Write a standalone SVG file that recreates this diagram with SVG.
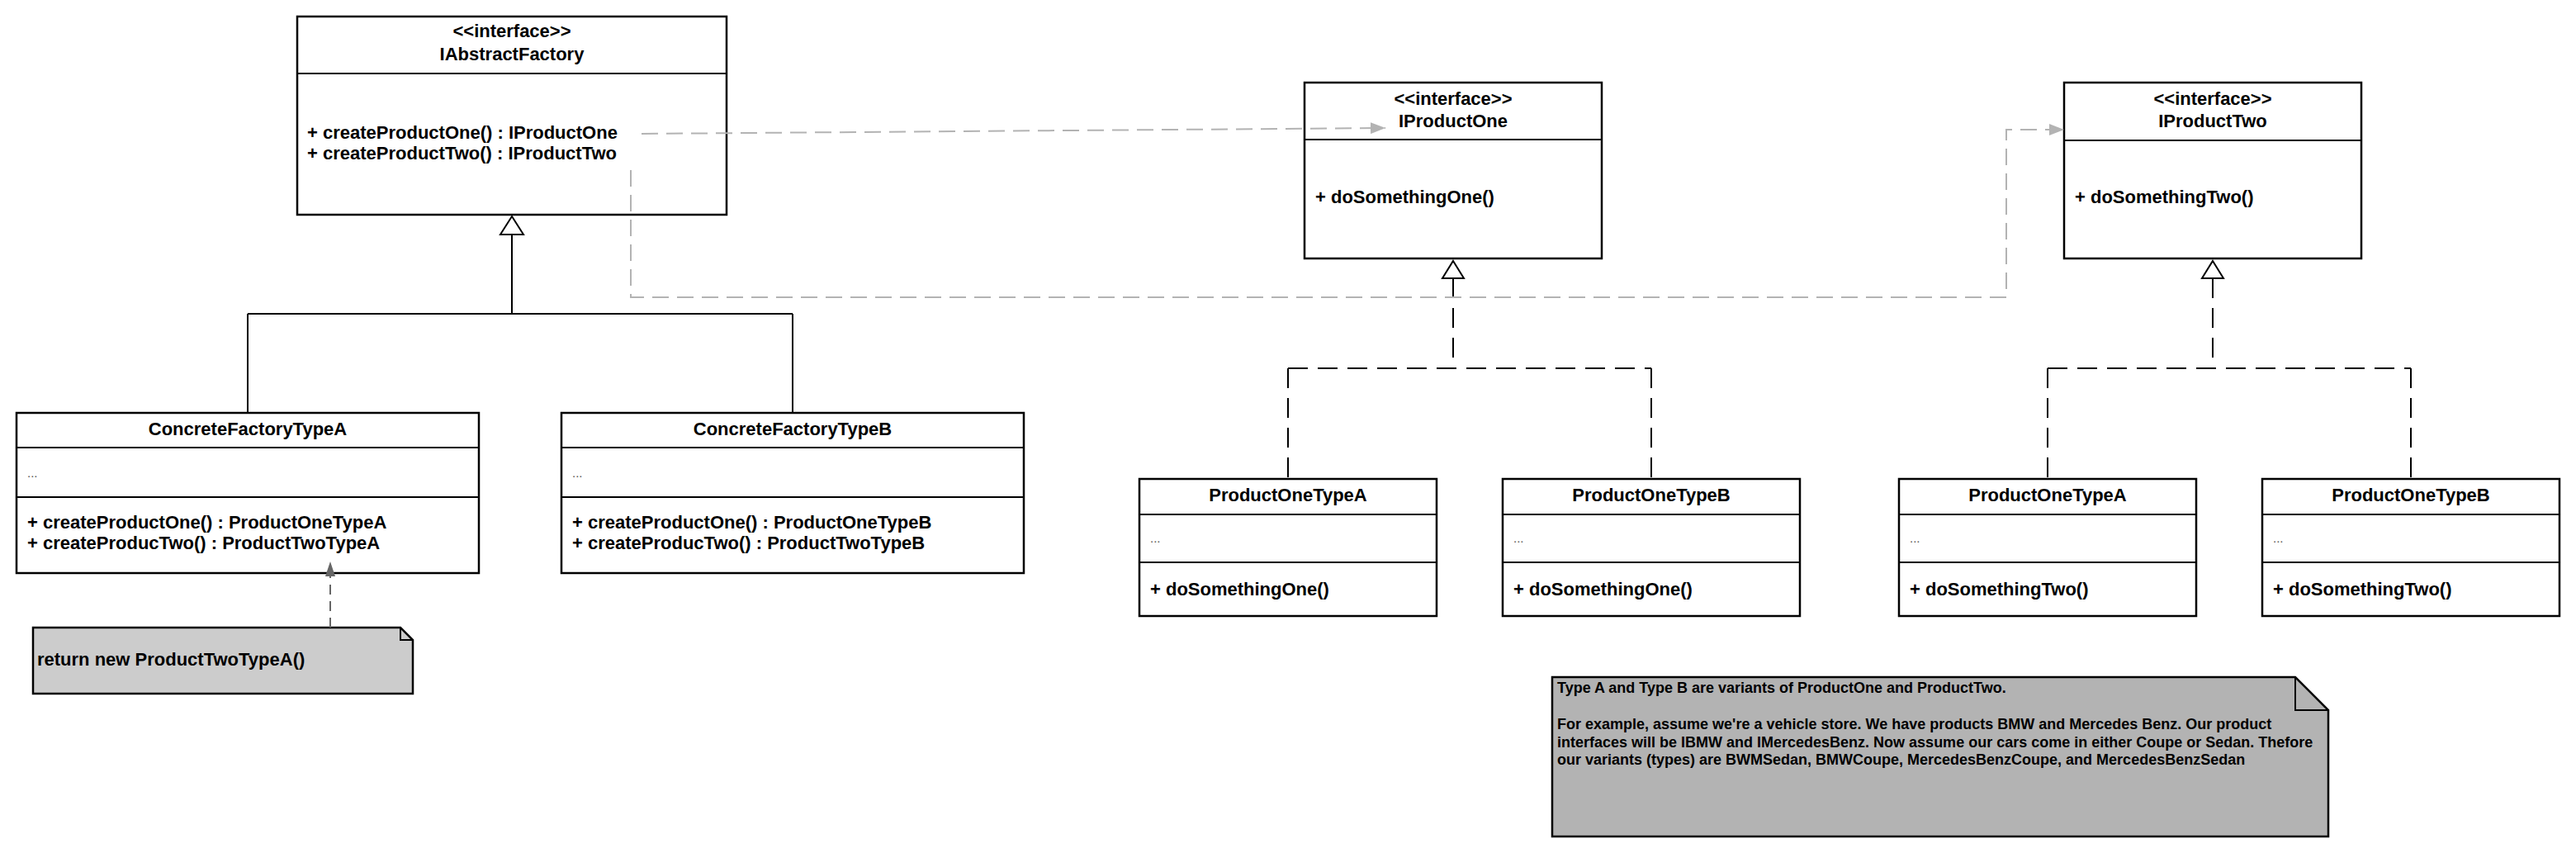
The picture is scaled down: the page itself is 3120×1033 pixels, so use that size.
<svg xmlns="http://www.w3.org/2000/svg" width="3120" height="1033" viewBox="0 0 3120 1033">
<style>
.box{fill:#fff;stroke:#000;stroke-width:2.5}
.sep{stroke:#000;stroke-width:2;fill:none}
.t{font-family:"Liberation Sans",Arial,sans-serif;font-size:22px;font-weight:bold;fill:#000}
.c{text-anchor:middle}
.dots{font-family:"Liberation Sans",Arial,sans-serif;font-size:15px;fill:#555}
.n{font-family:"Liberation Sans",Arial,sans-serif;font-size:18px;font-weight:bold;fill:#000}
.solid{stroke:#000;stroke-width:2;fill:none}
.dash{stroke:#000;stroke-width:2;fill:none;stroke-dasharray:24 12}
.grey{stroke:#b3b3b3;stroke-width:2;fill:none;stroke-dasharray:20 10}
.tri{fill:#fff;stroke:#000;stroke-width:2}
</style>
<defs>
<marker id="ga" markerUnits="userSpaceOnUse" markerWidth="20" markerHeight="14" refX="18" refY="7" orient="auto"><path d="M0 0 L18 7 L0 14 Z" fill="#b3b3b3"/></marker>
<marker id="da" markerUnits="userSpaceOnUse" markerWidth="20" markerHeight="14" refX="18" refY="6" orient="auto"><path d="M0 0 L18 6 L0 12 Z" fill="#666"/></marker>
</defs>

<g id="IAbstractFactory">
<rect class="box" x="360" y="20" width="520" height="240"/>
<line class="sep" x1="360" y1="89" x2="880" y2="89"/>
<text class="t c" x="620" y="45">&lt;&lt;interface&gt;&gt;</text>
<text class="t c" x="620" y="73">IAbstractFactory</text>
<text class="t" x="372" y="168">+ createProductOne() : IProductOne</text>
<text class="t" x="372" y="193">+ createProductTwo() : IProductTwo</text>
</g>

<g id="ConcreteFactoryTypeA">
<rect class="box" x="20" y="500" width="560" height="194"/>
<line class="sep" x1="20" y1="542" x2="580" y2="542"/>
<line class="sep" x1="20" y1="602" x2="580" y2="602"/>
<text class="t c" x="300" y="527">ConcreteFactoryTypeA</text>
<text class="dots" x="33" y="578">...</text>
<text class="t" x="33" y="640">+ createProductOne() : ProductOneTypeA</text>
<text class="t" x="33" y="665">+ createProducTwo() : ProductTwoTypeA</text>
</g>

<g id="ConcreteFactoryTypeB">
<rect class="box" x="680" y="500" width="560" height="194"/>
<line class="sep" x1="680" y1="542" x2="1240" y2="542"/>
<line class="sep" x1="680" y1="602" x2="1240" y2="602"/>
<text class="t c" x="960" y="527">ConcreteFactoryTypeB</text>
<text class="dots" x="693" y="578">...</text>
<text class="t" x="693" y="640">+ createProductOne() : ProductOneTypeB</text>
<text class="t" x="693" y="665">+ createProducTwo() : ProductTwoTypeB</text>
</g>

<g id="NoteReturn">
<path d="M40 760 H485 L500 775 V840 H40 Z" fill="#ccc" stroke="#000" stroke-width="2.5"/>
<path d="M485 760 V775 H500" fill="none" stroke="#000" stroke-width="2"/>
<text class="t" x="45" y="806">return new ProductTwoTypeA()</text>
</g>

<g id="IProductOne">
<rect class="box" x="1580" y="100" width="360" height="213"/>
<line class="sep" x1="1580" y1="169" x2="1940" y2="169"/>
<text class="t c" x="1760" y="127">&lt;&lt;interface&gt;&gt;</text>
<text class="t c" x="1760" y="154">IProductOne</text>
<text class="t" x="1593" y="246">+ doSomethingOne()</text>
</g>

<g id="IProductTwo">
<rect class="box" x="2500" y="100" width="360" height="213"/>
<line class="sep" x1="2500" y1="170" x2="2860" y2="170"/>
<text class="t c" x="2680" y="127">&lt;&lt;interface&gt;&gt;</text>
<text class="t c" x="2680" y="154">IProductTwo</text>
<text class="t" x="2513" y="246">+ doSomethingTwo()</text>
</g>

<g id="ProductOneTypeA_1">
<rect class="box" x="1380" y="580" width="360" height="166"/>
<line class="sep" x1="1380" y1="623" x2="1740" y2="623"/>
<line class="sep" x1="1380" y1="681" x2="1740" y2="681"/>
<text class="t c" x="1560" y="607">ProductOneTypeA</text>
<text class="dots" x="1393" y="657">...</text>
<text class="t" x="1393" y="721">+ doSomethingOne()</text>
</g>

<g id="ProductOneTypeB_1">
<rect class="box" x="1820" y="580" width="360" height="166"/>
<line class="sep" x1="1820" y1="623" x2="2180" y2="623"/>
<line class="sep" x1="1820" y1="681" x2="2180" y2="681"/>
<text class="t c" x="2000" y="607">ProductOneTypeB</text>
<text class="dots" x="1833" y="657">...</text>
<text class="t" x="1833" y="721">+ doSomethingOne()</text>
</g>

<g id="ProductOneTypeA_2">
<rect class="box" x="2300" y="580" width="360" height="166"/>
<line class="sep" x1="2300" y1="623" x2="2660" y2="623"/>
<line class="sep" x1="2300" y1="681" x2="2660" y2="681"/>
<text class="t c" x="2480" y="607">ProductOneTypeA</text>
<text class="dots" x="2313" y="657">...</text>
<text class="t" x="2313" y="721">+ doSomethingTwo()</text>
</g>

<g id="ProductOneTypeB_2">
<rect class="box" x="2740" y="580" width="360" height="166"/>
<line class="sep" x1="2740" y1="623" x2="3100" y2="623"/>
<line class="sep" x1="2740" y1="681" x2="3100" y2="681"/>
<text class="t c" x="2920" y="607">ProductOneTypeB</text>
<text class="dots" x="2753" y="657">...</text>
<text class="t" x="2753" y="721">+ doSomethingTwo()</text>
</g>

<g id="NoteVariants">
<path d="M1880 820 H2780 L2820 860 V1013 H1880 Z" fill="#b3b3b3" stroke="#000" stroke-width="2.5"/>
<path d="M2780 820 V860 H2820" fill="none" stroke="#000" stroke-width="2"/>
<text class="n" x="1886" y="839">Type A and Type B are variants of ProductOne and ProductTwo.</text>
<text class="n" x="1886" y="883">For example, assume we're a vehicle store. We have products BMW and Mercedes Benz. Our product</text>
<text class="n" x="1886" y="905">interfaces will be IBMW and IMercedesBenz. Now assume our cars come in either Coupe or Sedan. Thefore</text>
<text class="n" x="1886" y="926">our variants (types) are BWMSedan, BMWCoupe, MercedesBenzCoupe, and MercedesBenzSedan</text>
</g>

<g id="connectors">
<path class="solid" d="M620 284 V380 M300 380 H960 M300 380 V500 M960 380 V500"/>
<path class="tri" d="M620 262 L634 284 L606 284 Z"/>
<path class="dash" d="M1760 337 V446 M1560 446 H2000 M1560 446 V580 M2000 446 V580"/>
<path class="tri" d="M1760 316 L1773 337 L1747 337 Z"/>
<path class="dash" d="M2680 337 V446 M2480 446 H2920 M2480 446 V580 M2920 446 V580"/>
<path class="tri" d="M2680 316 L2693 337 L2667 337 Z"/>
<path class="grey" d="M777 162 L1678 155" marker-end="url(#ga)"/>
<path class="grey" d="M764 206 V360 H2430 V157 H2500" marker-end="url(#ga)"/>
<path d="M400 760 V680" stroke="#666" stroke-width="2" fill="none" stroke-dasharray="12 8" marker-end="url(#da)"/>
</g>
</svg>
